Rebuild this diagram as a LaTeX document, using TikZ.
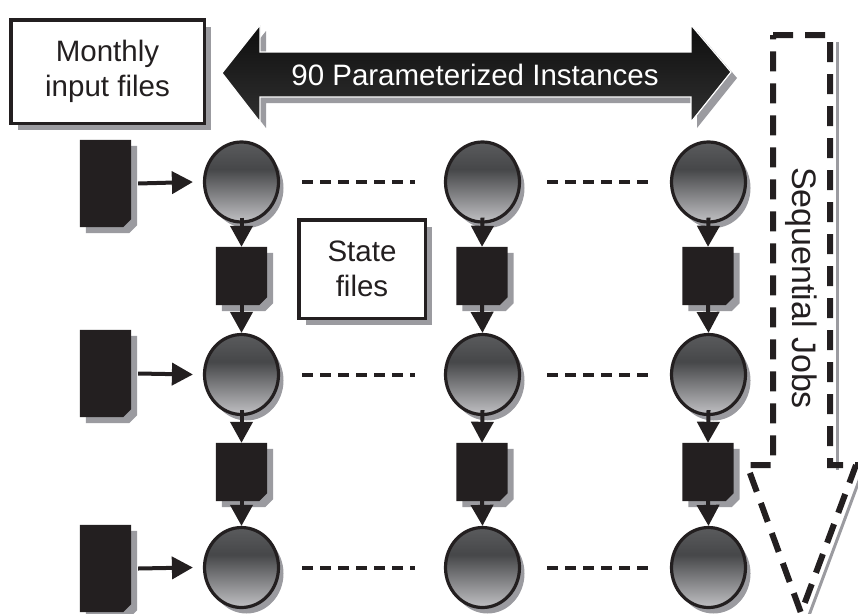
\documentclass[tikz,border=0pt]{standalone}
\usepackage{fontspec}
\setmainfont{Liberation Sans}
\usetikzlibrary{arrows.meta,shapes.geometric,shadows}
\definecolor{shd}{RGB}{155,155,160}
\definecolor{ink}{RGB}{35,31,32}
\definecolor{ballT}{RGB}{90,91,93}
\definecolor{ballD}{RGB}{70,71,73}
\definecolor{ballL}{RGB}{192,192,195}
\definecolor{arrT}{RGB}{14,14,14}
\definecolor{arrB}{RGB}{48,48,48}
\pgfdeclareverticalshading{ballshade}{100bp}{color(0bp)=(ballL); color(25bp)=(ballL); color(58bp)=(ballD); color(75bp)=(ballT); color(100bp)=(ballT)}
\pgfdeclareverticalshading{arrshade}{100bp}{color(0bp)=(arrB); color(25bp)=(arrB); color(75bp)=(arrT); color(100bp)=(arrT)}
\newcommand\docshape[1]{%
  \fill[shd] ([shift={(6pt,-6pt)}]#1.north west) -- ([shift={(6pt,-6pt)}]#1.north east) -- ([shift={(6pt,2pt)}]#1.south east) -- ([shift={(-2pt,-6pt)}]#1.south east) -- ([shift={(6pt,-6pt)}]#1.south west) -- cycle;
  \fill[ink] (#1.north west) -- (#1.north east) -- ([yshift=8pt]#1.south east) -- ([xshift=-8pt]#1.south east) -- (#1.south west) -- cycle;}
\tikzset{
  ball/.style={ellipse, inner sep=0pt, minimum width=74pt, minimum height=80pt, draw=ink, line width=3.2pt, shading=ballshade,
    drop shadow={shadow xshift=5pt, shadow yshift=-6pt, fill=shd, opacity=1}},
  filebox/.style={rectangle, inner sep=0pt, minimum width=51pt, minimum height=87pt},
  sqbox/.style={rectangle, inner sep=0pt, minimum width=51pt, minimum height=58pt},
  labelbox/.style={rectangle, draw=ink, line width=3.5pt, fill=white, align=center, text=ink, inner sep=0pt,
    font=\fontsize{29.5}{35}\selectfont, drop shadow={shadow xshift=7pt, shadow yshift=-7pt, fill=shd, opacity=1}},
  flow/.style={draw=ink, line width=4pt, -{Triangle[length=21pt,width=22pt]}},
  dots/.style={draw=ink, line width=4pt, dash pattern=on 11pt off 7pt},
}
\begin{document}
\begin{tikzpicture}[x=1pt,y=-1pt]
\useasboundingbox (0,0) rectangle (858,613);
\clip (0,0) rectangle (858,613);

% big double arrow
\fill[shd, shift={(6,6)}] (222,73) -- (260,25) -- (260,52) -- (691,52) -- (691,25) -- (731,72) -- (691,122) -- (691,97) -- (260,97) -- (260,122) -- cycle;
\shade[shading=arrshade, draw=white, line width=1.2pt] (222,73) -- (260,25) -- (260,52) -- (691,52) -- (691,25) -- (731,72) -- (691,122) -- (691,97) -- (260,97) -- (260,122) -- cycle;
\node[text=white, font=\fontsize{29.5}{35}\selectfont] (par) at (475,74.5) {90 Parameterized Instances};

% label boxes
\node[labelbox, minimum width=193.5pt, minimum height=103.5pt] (month) at (107.5,71.5) {Monthly\\input files};
\node[labelbox, minimum width=126.5pt, minimum height=98.5pt] (state) at (362,269) {State\\files};

% sequential jobs dashed arrow
\draw[shd, line width=3pt] (837,42) -- (837,470);
\draw[shd, line width=3pt] (863,470) -- (808,618);
\draw[ink, line width=6pt, dash pattern=on 20pt off 12pt, line join=miter] (773,35) -- (830,35) -- (830,465) -- (856,465) -- (801,613) -- (747,465) -- (773,465) -- cycle;
\node[rotate=-90, text=ink, font=\fontsize{34}{40}\selectfont] (seq) at (801,288) {Sequential Jobs};

% input files
\node[filebox] (f1) at (105.5,183.5) {};
\node[filebox] (f2) at (105.5,373.5) {};
\node[filebox] (f3) at (105.5,568.5) {};
\docshape{f1}\docshape{f2}\docshape{f3}

% state files
\foreach \c/\x in {1/241.5,2/482,3/708} {
  \node[sqbox] (s1\c) at (\x,276) {};
  \node[sqbox] (s2\c) at (\x,472) {};
  \docshape{s1\c}\docshape{s2\c}
}

% instances
\foreach \c/\x in {1/241.5,2/482.5,3/708.5} {
  \node[ball] (b1\c) at (\x,182) {};
  \node[ball] (b2\c) at (\x,374.5) {};
  \node[ball] (b3\c) at (\x,567.5) {};
}

% flows
\foreach \r in {1,2,3} {
  \draw[flow] ([xshift=7pt]f\r.east) -- ([xshift=-10pt]b\r1.west);
  \draw[dots] ([xshift=22pt]b\r1.east) -- ([xshift=-29pt]b\r2.west);
  \draw[dots] ([xshift=26pt]b\r2.east) -- ([xshift=-18pt]b\r3.west);
}
\foreach \c in {1,2,3} {
  \draw[flow] ([yshift=6pt]b1\c.south) -- (s1\c.north);
  \draw[flow] (s1\c.south) -- (b2\c.north);
  \draw[flow] ([yshift=6pt]b2\c.south) -- (s2\c.north);
  \draw[flow] (s2\c.south) -- (b3\c.north);
}
\end{tikzpicture}
\end{document}
